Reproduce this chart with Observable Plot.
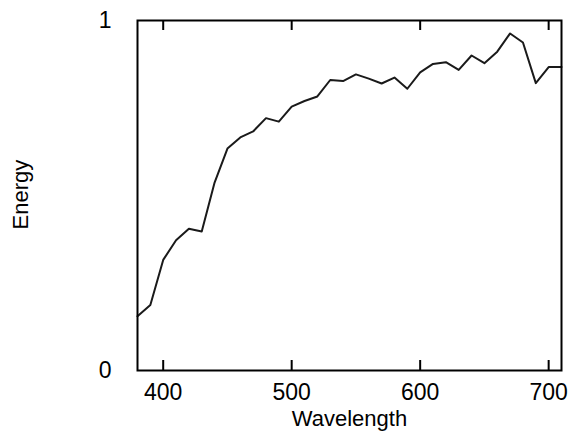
<!DOCTYPE html>
<html><head><meta charset="utf-8">
<script src="https://cdn.jsdelivr.net/npm/d3@7"></script>
<script src="https://cdn.jsdelivr.net/npm/@observablehq/plot@0.6"></script>
<style>html,body{margin:0;padding:0;background:#fff}</style>
</head><body><div id="chart"></div>
<script>
const wavelengths = [380,390,400,410,420,430,440,450,460,470,480,490,500,510,520,530,540,550,560,570,580,590,600,610,620,630,640,650,660,670,680,690,700,710];
const energy = [0.155,0.187,0.316,0.372,0.405,0.397,0.537,0.634,0.666,0.683,0.721,0.711,0.754,0.770,0.783,0.830,0.827,0.846,0.834,0.820,0.837,0.805,0.852,0.876,0.881,0.859,0.900,0.878,0.911,0.963,0.937,0.821,0.867,0.867];
const xTicks = [400,500,600,700];
const yTicks = [0,1];
const xLabel = "Wavelength";
const yLabel = "Energy";

const data = wavelengths.map((w, i) => ({wavelength: w, energy: energy[i]}));

const chart = Plot.plot({
  width: 570, height: 432,
  marginLeft: 137, marginRight: 9, marginTop: 20, marginBottom: 62,
  style: {fontFamily: "'Liberation Sans', Arial, sans-serif", background: "#fff", color: "#000"},
  x: {domain: [380, 710], axis: null},
  y: {domain: [0, 1], axis: null},
  marks: [
    Plot.ruleX(xTicks, {x: d => d, insetTop: 340, stroke: "#000", strokeWidth: 2}),
    Plot.ruleX(xTicks, {x: d => d, insetBottom: 340, stroke: "#000", strokeWidth: 2}),
    Plot.text(xTicks, {x: d => d, text: d => String(d), frameAnchor: "bottom", lineAnchor: "top", dy: 13, fontSize: 23}),
    Plot.text(yTicks, {y: d => d, text: d => String(d), frameAnchor: "left", textAnchor: "end", dx: -26, fontSize: 23}),
    Plot.line(data, {x: "wavelength", y: "energy", stroke: "#1a1a1a", strokeWidth: 2}),
    Plot.frame({stroke: "#000", strokeWidth: 2}),
    Plot.text([xLabel], {text: d => d, frameAnchor: "bottom", dx: 0, dy: 55, fontSize: 22}),
    Plot.text([yLabel], {text: d => d, frameAnchor: "left", rotate: -90, dx: -117, dy: 34, fontSize: 22})
  ]
});
document.getElementById("chart").appendChild(chart);
</script>
</body></html>
